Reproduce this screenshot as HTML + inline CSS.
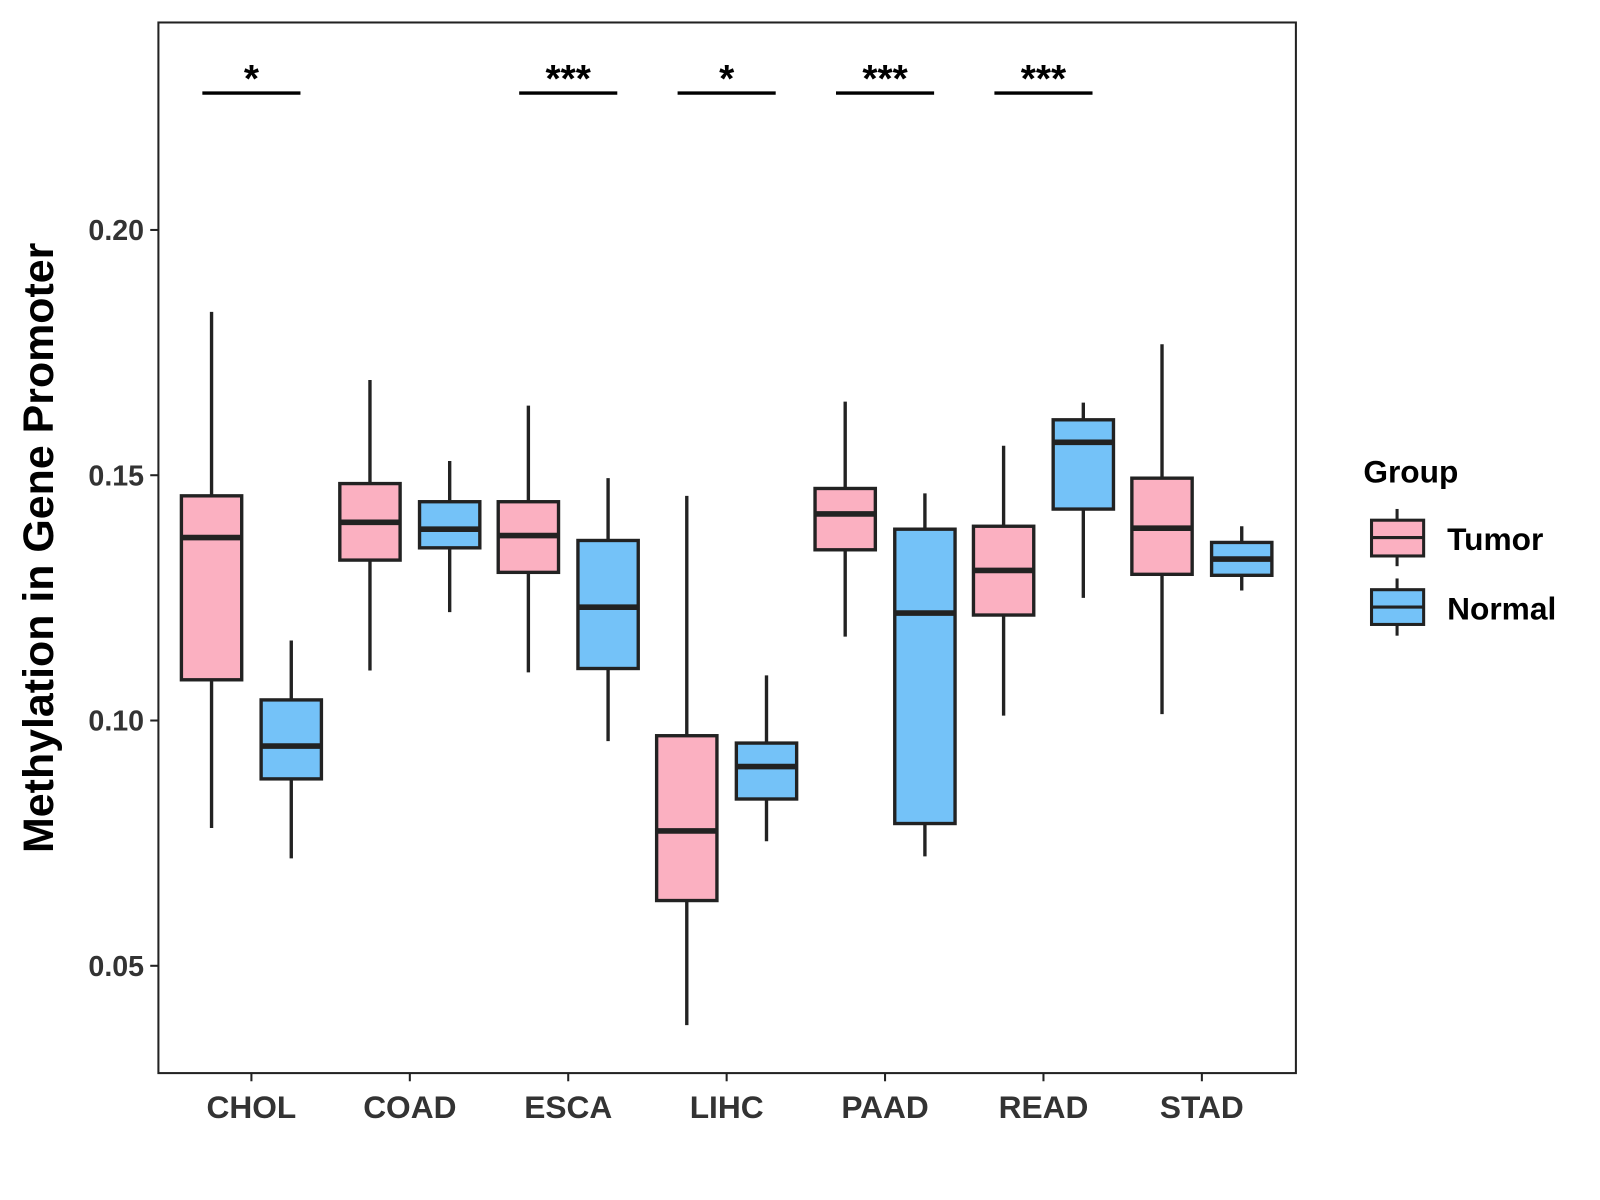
<!DOCTYPE html>
<html><head><meta charset="utf-8"><style>
body{margin:0;background:#fff;}
svg{display:block;font-family:"Liberation Sans",Arial,sans-serif;}
</style></head><body>
<svg id="chart" width="1600" height="1200" viewBox="0 0 1600 1200">
<g transform="scale(1.022)">
<rect x="155" y="22" width="1113" height="1028" fill="#fff" stroke="#222" stroke-width="2"/>
<g id="marks"></g>
<text transform="translate(52,536) rotate(-90)" text-anchor="middle" font-size="42" font-weight="bold" fill="#000">Methylation in Gene Promoter</text>
<g>
<text x="1334" y="472" font-size="31" font-weight="bold">Group</text>
<g>
<line x1="1367" y1="498" x2="1367" y2="554" stroke="#222" stroke-width="3"/>
<rect x="1342" y="509" width="51" height="35" fill="#fbb0c1" stroke="#222" stroke-width="3"/>
<line x1="1342" y1="526" x2="1393" y2="526" stroke="#222" stroke-width="3"/>
<text x="1416" y="538" font-size="31" font-weight="bold">Tumor</text></g>
<g>
<line x1="1367" y1="566" x2="1367" y2="622" stroke="#222" stroke-width="3"/>
<rect x="1342" y="577" width="51" height="34" fill="#74c2f8" stroke="#222" stroke-width="3"/>
<line x1="1342" y1="594" x2="1393" y2="594" stroke="#222" stroke-width="3"/>
<text x="1416" y="606" font-size="31" font-weight="bold">Normal</text></g>
</g>
</g>
</svg>
<script>
const categories=["CHOL","COAD","ESCA","LIHC","PAAD","READ","STAD"];
// [whiskerHigh, q3, median, q1, whiskerLow]
const tumor=[[0.1833,0.1458,0.1373,0.1083,0.0781],[0.1694,0.1483,0.1404,0.1327,0.1102],[0.1642,0.1446,0.1377,0.1302,0.1098],[0.1458,0.0969,0.0775,0.0633,0.0379],[0.1650,0.1473,0.1421,0.1348,0.1171],[0.1560,0.1396,0.1306,0.1215,0.1010],[0.1767,0.1494,0.1392,0.1298,0.1013]];
const normal=[[0.1163,0.1042,0.0948,0.0881,0.0719],[0.1529,0.1446,0.1390,0.1352,0.1221],[0.1494,0.1367,0.1231,0.1106,0.0958],[0.1092,0.0954,0.0906,0.0840,0.0754],[0.1463,0.1390,0.1219,0.0790,0.0723],[0.1648,0.1613,0.1567,0.1431,0.1250],[0.1396,0.1363,0.1329,0.1296,0.1265]];
const significance=["*","","***","*","***","***",""];
const yTicks=[0.05,0.10,0.15,0.20];
const yTickLabels=["0.05","0.10","0.15","0.20"];
const NS="http://www.w3.org/2000/svg";
const y=v=>225+(0.20-v)*4800;
const x=i=>246+i*155;
const g=document.getElementById('marks');
function mk(t,a,p){const e=document.createElementNS(NS,t);for(const k in a)e.setAttribute(k,a[k]);(p||g).appendChild(e);return e;}
yTicks.forEach((v,i)=>{
  const l=mk('line',{x1:147,x2:155,y1:y(v),y2:y(v),stroke:'#222','stroke-width':2});
  
  
  const t=mk('text',{x:141,y:y(v)+10,'text-anchor':'end','font-size':28,'font-weight':'bold',fill:'#333'});
  t.textContent=yTickLabels[i];
  
  
});
function box(cx,d,fill,name){
  const gg=mk('g',{});
  
  
  const w=59;
  mk('line',{x1:cx,x2:cx,y1:y(d[0]),y2:y(d[4]),stroke:'#222','stroke-width':3.3},gg);
  mk('rect',{x:cx-w/2,y:y(d[1]),width:w,height:y(d[3])-y(d[1]),fill:fill,stroke:'#222','stroke-width':3.3},gg);
  mk('line',{x1:cx-w/2,x2:cx+w/2,y1:y(d[2]),y2:y(d[2]),stroke:'#222','stroke-width':5.5},gg);
}
categories.forEach((c,i)=>{
  const cx=x(i);
  box(cx-39,tumor[i],'#fbb0c1','box-tumor-'+c.toLowerCase());
  box(cx+39,normal[i],'#74c2f8','box-normal-'+c.toLowerCase());
  const tk=mk('line',{x1:cx,x2:cx,y1:1050,y2:1058,stroke:'#222','stroke-width':2});
  
  
  const t=mk('text',{x:cx,y:1094,'text-anchor':'middle','font-size':31,'font-weight':'bold',fill:'#333'});
  t.textContent=c;
  
  
  if(significance[i]){
    const sl=mk('line',{x1:cx-48,x2:cx+48,y1:91,y2:91,stroke:'#000','stroke-width':3.3});
    
    
    const st=mk('text',{x:cx,y:90,'text-anchor':'middle','font-size':38,'font-weight':'bold',fill:'#000'});
    st.textContent=significance[i];
    
    
  }
});
</script>
</body></html>
